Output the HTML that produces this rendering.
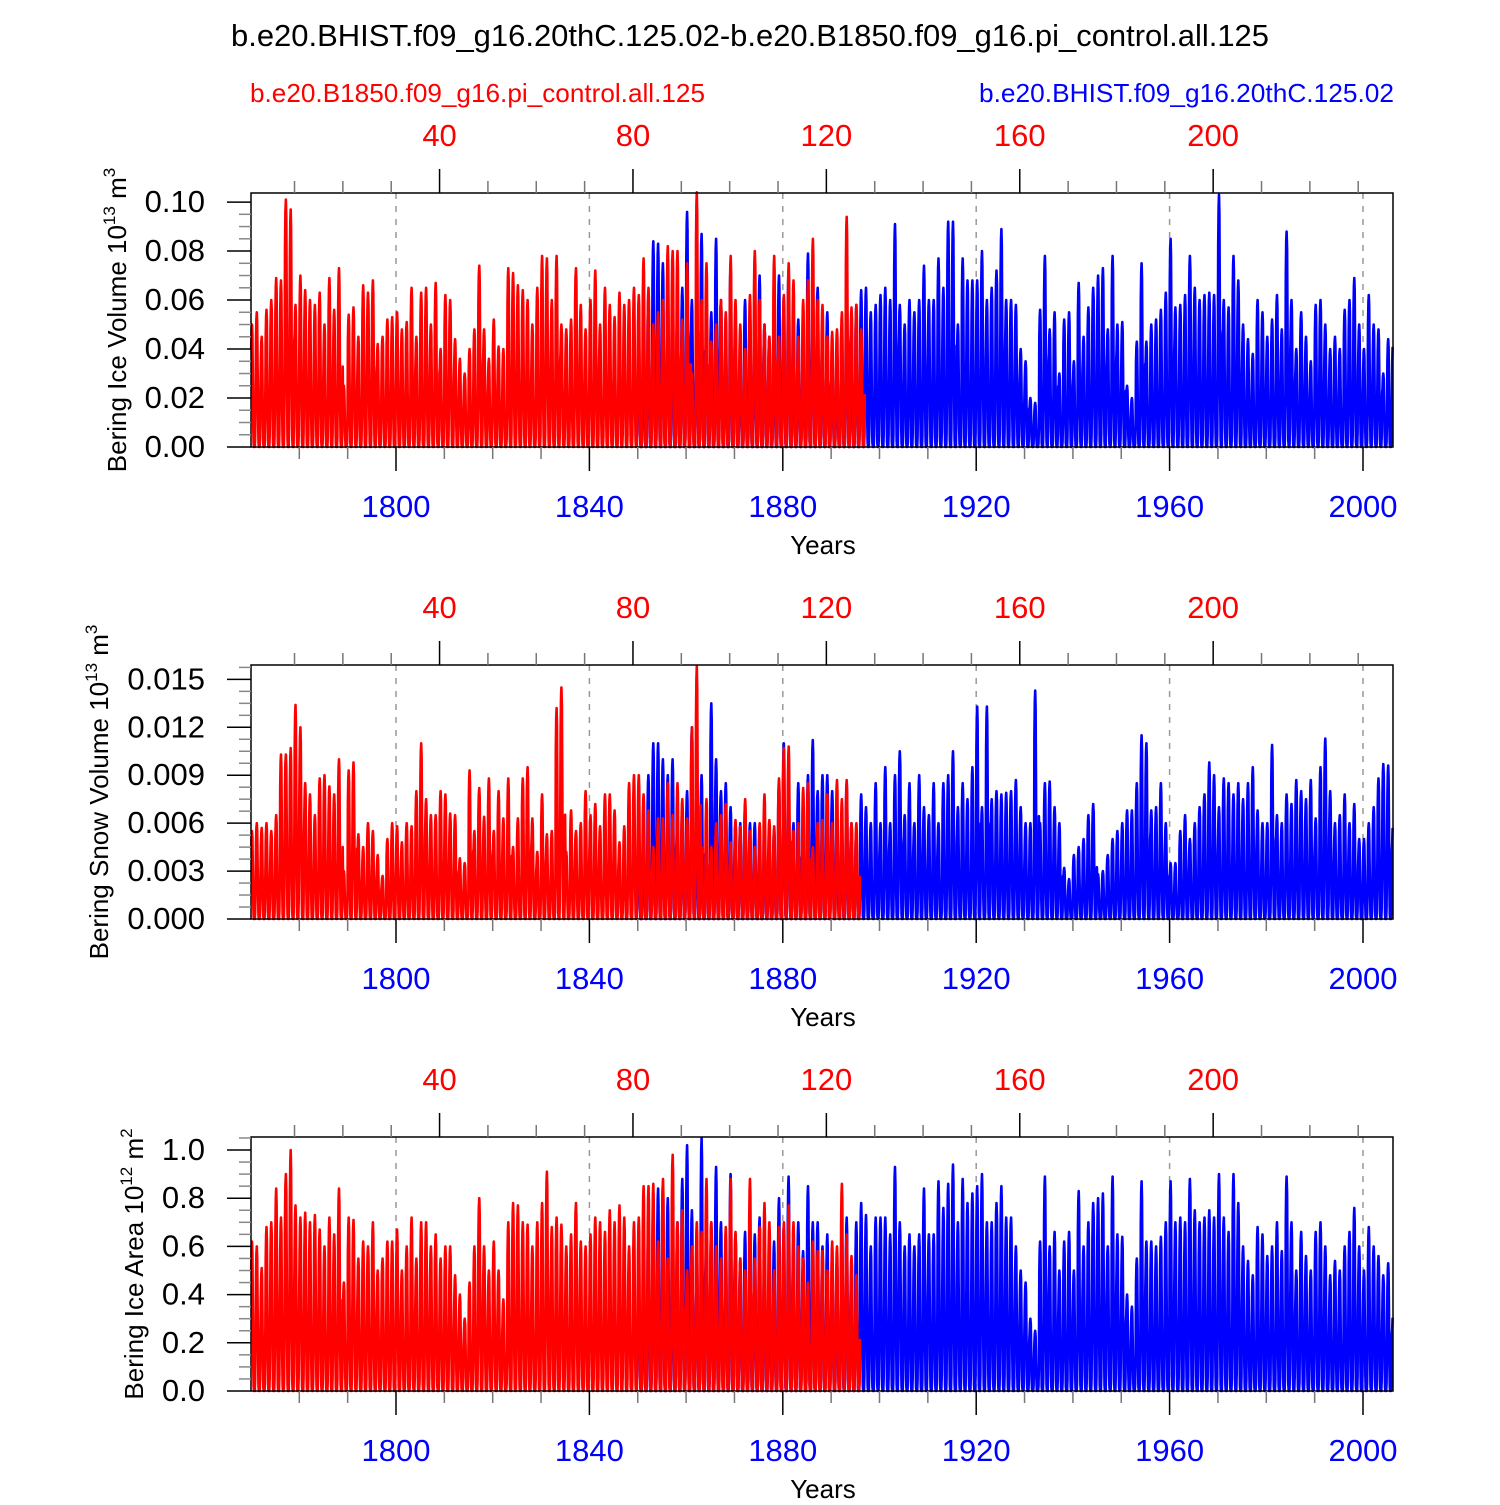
<!DOCTYPE html>
<html><head><meta charset="utf-8"><style>
html,body{margin:0;padding:0;background:#fff;}
svg text{font-family:"Liberation Sans",Arial,sans-serif;}
</style></head><body>
<svg id="chart" width="1500" height="1500" viewBox="0 0 1500 1500" xmlns="http://www.w3.org/2000/svg">
<rect width="1500" height="1500" fill="#fff"/>
<text x="750" y="46" text-anchor="middle" font-size="31" textLength="1038" lengthAdjust="spacingAndGlyphs">b.e20.BHIST.f09_g16.20thC.125.02-b.e20.B1850.f09_g16.pi_control.all.125</text>
<text x="250" y="102" font-size="26" fill="#f00" textLength="455" lengthAdjust="spacingAndGlyphs">b.e20.B1850.f09_g16.pi_control.all.125</text>
<text x="1394" y="102" text-anchor="end" font-size="26" fill="#00f" textLength="415" lengthAdjust="spacingAndGlyphs">b.e20.BHIST.f09_g16.20thC.125.02</text>
<g id="panels"></g>
</svg>
<script>
// seasonal cycle (fraction of annual peak) month 1..12
var seasonal = [0.8,0.95,1.0,0.92,0.6,0.2,0.03,0.0,0.0,0.0,0.08,0.45];
var blueStart = 1850;
var redStart = 1;
var volBlue = [0.03,0.05,0.062,0.084,0.083,0.075,0.07,0.06,0.055,0.065,0.096,0.06,0.05,0.087,0.048,0.055,0.085,0.06,0.04,0.074,0.05,0.04,0.06,0.055,0.06,0.07,0.05,0.045,0.055,0.07,0.06,0.072,0.04,0.052,0.04,0.079,0.065,0.065,0.045,0.055,0.035,0.04,0.05,0.072,0.035,0.058,0.064,0.065,0.055,0.058,0.062,0.065,0.06,0.091,0.058,0.05,0.06,0.055,0.06,0.074,0.06,0.06,0.077,0.065,0.092,0.092,0.05,0.077,0.068,0.068,0.068,0.08,0.06,0.065,0.072,0.089,0.06,0.06,0.058,0.04,0.035,0.02,0.018,0.056,0.078,0.048,0.055,0.03,0.052,0.055,0.035,0.067,0.045,0.057,0.065,0.07,0.073,0.048,0.078,0.05,0.051,0.025,0.02,0.043,0.075,0.043,0.05,0.052,0.056,0.063,0.085,0.057,0.058,0.062,0.078,0.065,0.06,0.062,0.063,0.062,0.103,0.06,0.057,0.078,0.068,0.05,0.044,0.038,0.06,0.055,0.045,0.052,0.062,0.048,0.088,0.06,0.04,0.055,0.045,0.035,0.058,0.06,0.05,0.04,0.045,0.04,0.056,0.06,0.069,0.05,0.04,0.062,0.05,0.048,0.03,0.044,0.043];
var volRed = [0.05,0.055,0.045,0.056,0.06,0.069,0.068,0.101,0.097,0.058,0.07,0.064,0.06,0.058,0.063,0.05,0.069,0.056,0.073,0.025,0.054,0.057,0.045,0.066,0.063,0.068,0.042,0.045,0.052,0.053,0.055,0.048,0.051,0.065,0.045,0.063,0.065,0.05,0.067,0.04,0.062,0.06,0.044,0.036,0.03,0.04,0.048,0.074,0.048,0.036,0.052,0.041,0.04,0.073,0.071,0.066,0.064,0.06,0.05,0.065,0.078,0.077,0.06,0.078,0.05,0.048,0.052,0.073,0.058,0.048,0.06,0.072,0.05,0.065,0.058,0.053,0.063,0.058,0.06,0.065,0.062,0.077,0.065,0.05,0.055,0.06,0.082,0.08,0.08,0.052,0.075,0.03,0.104,0.06,0.075,0.043,0.05,0.06,0.055,0.078,0.06,0.05,0.04,0.062,0.08,0.06,0.05,0.045,0.078,0.045,0.062,0.075,0.068,0.045,0.06,0.068,0.085,0.06,0.058,0.045,0.047,0.048,0.055,0.094,0.057,0.058,0.048];
var snowBlue = [0.003,0.006,0.009,0.011,0.011,0.01,0.009,0.01,0.006,0.007,0.008,0.012,0.004,0.009,0.005,0.0135,0.01,0.008,0.0085,0.007,0.006,0.006,0.007,0.006,0.006,0.005,0.006,0.004,0.0055,0.0085,0.011,0.009,0.006,0.0085,0.005,0.009,0.0112,0.008,0.009,0.009,0.008,0.006,0.005,0.0085,0.006,0.0055,0.0078,0.007,0.006,0.0085,0.006,0.0095,0.006,0.009,0.0105,0.0065,0.0085,0.006,0.009,0.007,0.0065,0.0085,0.006,0.0085,0.009,0.0105,0.007,0.0085,0.0075,0.0095,0.0133,0.007,0.0133,0.0075,0.008,0.0078,0.0079,0.008,0.0087,0.007,0.006,0.006,0.0143,0.006,0.0085,0.0086,0.007,0.006,0.0032,0.0025,0.004,0.0045,0.005,0.0065,0.0072,0.0028,0.003,0.004,0.005,0.0055,0.006,0.0068,0.0068,0.0085,0.0115,0.011,0.0068,0.007,0.0085,0.006,0.0035,0.0035,0.0055,0.0065,0.005,0.006,0.007,0.0078,0.0098,0.009,0.007,0.0088,0.0085,0.0078,0.0085,0.0075,0.0085,0.0095,0.0068,0.006,0.006,0.0109,0.0065,0.006,0.0078,0.0072,0.0087,0.008,0.0075,0.0087,0.0063,0.0095,0.0113,0.008,0.006,0.0065,0.0078,0.006,0.0072,0.005,0.005,0.006,0.007,0.0088,0.0097,0.0096,0.006,0.005,0.0046,0.0066,0.0074,0.0069];
var snowRed = [0.0055,0.006,0.0057,0.006,0.0055,0.0065,0.0103,0.0103,0.0107,0.0134,0.012,0.0085,0.0078,0.0065,0.0088,0.009,0.0083,0.0078,0.01,0.003,0.0093,0.0098,0.0053,0.0045,0.006,0.0055,0.004,0.0027,0.005,0.006,0.0058,0.0048,0.006,0.0058,0.008,0.011,0.0075,0.0065,0.0065,0.008,0.0078,0.0066,0.0065,0.0038,0.0035,0.0093,0.0055,0.0082,0.0064,0.0088,0.0055,0.008,0.0063,0.0088,0.0045,0.0063,0.0088,0.0095,0.0063,0.0042,0.0078,0.0053,0.0055,0.0132,0.0145,0.0042,0.0068,0.0055,0.006,0.008,0.0065,0.0072,0.0058,0.0078,0.0078,0.0068,0.0048,0.0058,0.0085,0.009,0.009,0.0078,0.0068,0.0045,0.0063,0.0063,0.0085,0.0065,0.0085,0.0075,0.0063,0.012,0.0158,0.0045,0.0075,0.0045,0.006,0.0065,0.0072,0.0048,0.0062,0.0058,0.0075,0.0055,0.0045,0.006,0.0078,0.0062,0.0058,0.0088,0.0107,0.0108,0.0055,0.006,0.0082,0.0085,0.0045,0.006,0.0062,0.0078,0.006,0.0087,0.0075,0.0087,0.006,0.006];
var areaBlue = [0.4,0.6,0.7,0.78,0.84,0.86,0.8,0.75,0.7,0.88,1.02,0.75,0.6,1.05,0.66,0.7,0.93,0.7,0.6,0.9,0.65,0.55,0.66,0.6,0.65,0.72,0.55,0.5,0.62,0.8,0.67,0.89,0.6,0.7,0.58,0.85,0.7,0.7,0.6,0.65,0.5,0.55,0.64,0.72,0.5,0.7,0.78,0.73,0.6,0.72,0.72,0.72,0.65,0.93,0.7,0.6,0.65,0.6,0.65,0.84,0.65,0.65,0.87,0.76,0.86,0.94,0.7,0.88,0.78,0.82,0.85,0.9,0.7,0.7,0.78,0.85,0.72,0.72,0.6,0.5,0.45,0.3,0.25,0.62,0.89,0.6,0.66,0.5,0.62,0.66,0.5,0.83,0.6,0.7,0.78,0.8,0.82,0.6,0.89,0.65,0.64,0.4,0.35,0.55,0.87,0.62,0.62,0.6,0.64,0.7,0.87,0.7,0.72,0.7,0.88,0.75,0.7,0.72,0.75,0.72,0.9,0.72,0.66,0.9,0.78,0.6,0.54,0.48,0.68,0.65,0.56,0.6,0.7,0.58,0.89,0.7,0.5,0.66,0.56,0.5,0.66,0.7,0.6,0.48,0.54,0.5,0.6,0.66,0.76,0.6,0.5,0.68,0.6,0.56,0.48,0.53,0.32];
var areaRed = [0.62,0.6,0.51,0.68,0.7,0.84,0.72,0.9,1.0,0.77,0.72,0.74,0.7,0.73,0.67,0.6,0.72,0.65,0.84,0.45,0.72,0.71,0.55,0.62,0.6,0.7,0.5,0.55,0.62,0.62,0.67,0.5,0.6,0.72,0.55,0.7,0.7,0.6,0.65,0.55,0.6,0.6,0.48,0.4,0.3,0.45,0.6,0.8,0.6,0.5,0.62,0.5,0.38,0.7,0.78,0.77,0.7,0.69,0.6,0.7,0.78,0.91,0.68,0.72,0.69,0.6,0.65,0.78,0.62,0.6,0.65,0.72,0.7,0.66,0.75,0.7,0.77,0.72,0.6,0.7,0.72,0.85,0.85,0.86,0.62,0.88,0.55,0.98,0.7,0.75,0.5,0.6,0.7,0.66,0.88,0.7,0.6,0.55,0.68,0.88,0.66,0.55,0.5,0.88,0.55,0.68,0.78,0.7,0.5,0.68,0.7,0.77,0.7,0.6,0.55,0.45,0.62,0.58,0.58,0.5,0.62,0.6,0.86,0.65,0.56,0.48];
var bottomTicks = [1800,1840,1880,1920,1960,2000];
var topTicks = [40,80,120,160,200];
var volTicks = ["0.00","0.02","0.04","0.06","0.08","0.10"];
var snowTicks = ["0.000","0.003","0.006","0.009","0.012","0.015"];
var areaTicks = ["0.0","0.2","0.4","0.6","0.8","1.0"];

var NS="http://www.w3.org/2000/svg";
var X0=251,X1=1393,PX=4.835;
function xYear(y){return 396+(y-1800)*PX;}
function xRed(y){return X0+(y-1)*PX;}
function mk(t,a,p){var e=document.createElementNS(NS,t);for(var k in a)e.setAttribute(k,a[k]);p.appendChild(e);return e;}
var root=document.getElementById('panels');

function panel(top,ymax,tickLabels,step,minorStep,blue,red,ylabel,expo,unit,lx,name){
  var bot=top+254;
  var g=mk('g',{},root);
  
  
  function yv(v){return bot-v/ymax*254;}
  bottomTicks.forEach(function(t){
    var l=mk('line',{x1:xYear(t),x2:xYear(t),y1:top,y2:bot,stroke:'#999','stroke-width':1.5,'stroke-dasharray':'6,7'},g);
    
    
  });
  function series(arr,start,xf,color,sname){
    var pts=[];
    for(var i=0;i<arr.length;i++){for(var m=0;m<12;m++){
      var x=xf(start+i+(m+0.5)/12); if(x>X1)continue;
      pts.push(x.toFixed(1)+','+yv(arr[i]*seasonal[m]).toFixed(1));}}
    var p=mk('polyline',{points:pts.join(' '),fill:'none',stroke:color,'stroke-width':2.6,'stroke-linejoin':'round'},g);
    
    
  }
  series(blue,blueStart,xYear,'#00f',name+'-blue-line');
  series(red,redStart,xRed,'#f00',name+'-red-line');
  var fr=mk('rect',{x:X0,y:top,width:X1-X0,height:254,fill:'none',stroke:'#000','stroke-width':1.5},g);
  
  
  for(var yr=1780;yr<=2000;yr+=10){var x=xYear(yr);if(x<X0||x>X1)continue;
    var major=bottomTicks.indexOf(yr)>=0;
    mk('line',{x1:x,x2:x,y1:bot,y2:bot+(major?24:12),stroke:major?'#000':'#777','stroke-width':1.5},g);}
  bottomTicks.forEach(function(t){var tx=mk('text',{x:xYear(t),y:bot+70,'text-anchor':'middle','font-size':31,fill:'#00f'},g);tx.textContent=t;
    
    });
  var xt=mk('text',{x:823,y:bot+107,'text-anchor':'middle','font-size':26},g);xt.textContent='Years';
  
  
  for(var r=10;r<=230;r+=10){var x=xRed(r);if(x<X0||x>X1)continue;
    var major=topTicks.indexOf(r)>=0;
    mk('line',{x1:x,x2:x,y1:top,y2:top-(major?24:12),stroke:major?'#000':'#777','stroke-width':1.5},g);}
  topTicks.forEach(function(t){var tx=mk('text',{x:xRed(t),y:top-47,'text-anchor':'middle','font-size':31,fill:'#f00'},g);tx.textContent=t;
    
    });
  for(var v=0;v<=ymax+1e-9;v+=minorStep){var yy=yv(v);
    var isMaj=Math.abs(v/step-Math.round(v/step))<1e-6;
    mk('line',{x1:X0,x2:X0-(isMaj?24:12),y1:yy,y2:yy,stroke:isMaj?'#000':'#888','stroke-width':1.5},g);}
  tickLabels.forEach(function(t,i){var tx=mk('text',{x:X0-46,y:yv(i*step)+10,'text-anchor':'end','font-size':31},g);tx.textContent=t;
    
    });
  var cy=top+127;
  var yt=mk('text',{x:0,y:0,'text-anchor':'middle','font-size':26,transform:'translate('+lx+','+cy+') rotate(-90)'},g);
  
  
  yt.appendChild(document.createTextNode(ylabel+' 10'));
  var s=document.createElementNS(NS,'tspan');s.setAttribute('font-size','17');s.setAttribute('dy','-11');s.textContent=expo;yt.appendChild(s);
  var s2=document.createElementNS(NS,'tspan');s2.setAttribute('dy','11');s2.textContent=' m';yt.appendChild(s2);
  var s3=document.createElementNS(NS,'tspan');s3.setAttribute('font-size','17');s3.setAttribute('dy','-11');s3.textContent=unit;yt.appendChild(s3);
}
panel(193,0.1037,volTicks,0.02,0.005,volBlue,volRed,'Bering Ice Volume','13','3',126,'ice-volume');
panel(665,0.0159,snowTicks,0.003,0.00075,snowBlue,snowRed,'Bering Snow Volume','13','3',108,'snow-volume');
panel(1137,1.054,areaTicks,0.2,0.05,areaBlue,areaRed,'Bering Ice Area','12','2',143,'ice-area');
</script>
</body></html>
